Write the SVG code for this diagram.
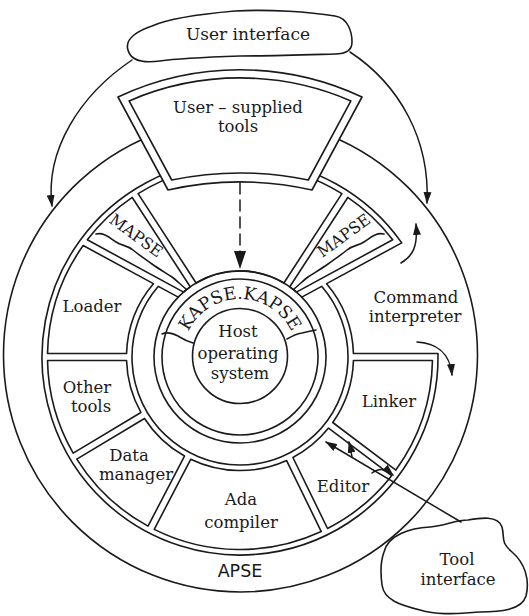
<svg xmlns="http://www.w3.org/2000/svg" width="529" height="616" viewBox="0 0 529 616">
<style>
.ln{fill:none;stroke:#1a1a1a;stroke-width:1.6;stroke-linejoin:round;stroke-linecap:round}
.wf{fill:#fff;stroke:#1a1a1a;stroke-width:1.6;stroke-linejoin:round}
.t{font-family:"DejaVu Serif","Liberation Serif",serif;font-size:16.5px;fill:#1a1a1a;text-anchor:middle}
.s{font-family:"DejaVu Sans","Liberation Sans",sans-serif;font-size:17.5px;fill:#1a1a1a;text-anchor:middle}
.cn{fill:none;stroke:#1a1a1a;stroke-width:1.5;stroke-linecap:round}
</style>
<defs>
<marker id="ah" viewBox="0 0 12 8" refX="11" refY="4" markerWidth="12" markerHeight="8" markerUnits="userSpaceOnUse" orient="auto"><path d="M0,0 L12,4 L0,8 Z" fill="#1a1a1a"/></marker>
<marker id="ahb" viewBox="0 0 18 12" refX="17" refY="6" markerWidth="18" markerHeight="12" markerUnits="userSpaceOnUse" orient="auto"><path d="M0,0 L18,6 L0,12 Z" fill="#1a1a1a"/></marker>
<path id="kp" d="M183,356 A57,57 0 0 1 297,356"/>
</defs>
<rect width="529" height="616" fill="#fff"/>

<g id="apse">
<circle class="wf" cx="240.5" cy="355" r="237"/>
<text class="s" x="240" y="577">APSE</text>
</g>

<g id="ring-walls">
<path class="ln" d="M401.75,242.85 L326.64,283.65 A113.5,113.5 0 0 1 353.45,353.5 L437.97,353.5 A198,198 0 1 1 401.75,242.85 Z"/>
<path class="ln" d="M301.78,297.15 L321.66,286.33 A108,108 0 1 1 158.34,286.33 L178.22,297.15"/>
</g>

<g id="command-interpreter">
<text class="t" x="416" y="303">Command</text>
<text class="t" x="415" y="322">interpreter</text>
</g>

<g id="kapse">
<circle class="ln" cx="240" cy="357" r="86"/>
<circle class="ln" cx="240" cy="357" r="78"/>
<path class="ln" d="M162,334 C168,331 174,334 178,336 C183,339 186,341 193,343"/>
<path class="ln" d="M287,339 C292,336 296,334 302,333 C307,332 310,331 316,330"/>
<text class="t" style="font-size:17.5px"><textPath href="#kp" startOffset="50%">KAPSE.KAPSE</textPath></text>
</g>

<g id="host">
<circle class="ln" cx="240" cy="356" r="47.5"/>
<text class="t" x="238" y="337">Host</text>
<text class="t" x="238" y="359">operating</text>
<text class="t" x="240" y="379">system</text>
</g>

<g id="top-cell">
<path class="ln" d="M138.10,193.64 A192.5,192.5 0 0 1 341.90,193.64 L283.90,282.96 A86,86 0 0 0 196.10,282.96 Z"/>
</g>

<g id="mapse-right">
<path class="ln" d="M347.77,197.46 A192.5,192.5 0 0 1 392.7,239.8 L296.42,292.10 A86,86 0 0 0 289.77,286.78 Z"/>
<path class="ln" d="M384,234 C376,232 370,238 364,242 C358,246 353,245 347,250 C341,255 335,259 328,264 C321,269 314,273 308,277 C304,280 300,284 294,289"/>
<text class="t" style="font-size:16px" transform="translate(347,240) rotate(-36)">MAPSE</text>
</g>

<g id="mapse-left">
<path class="ln" d="M132.23,197.46 L190.23,286.78 A86,86 0 0 0 183.58,292.10 L87.3,239.8 A192.5,192.5 0 0 1 132.23,197.46 Z"/>
<path class="ln" d="M96,234 C104,232 110,238 116,242 C122,246 127,245 133,250 C139,255 145,259 152,264 C159,269 166,273 172,277 C176,280 180,284 186,289"/>
<text class="t" style="font-size:16px" transform="translate(133,240) rotate(36)">MAPSE</text>
</g>

<g id="linker">
<path class="ln" d="M353.45,360.5 L432.47,360.5 A192.5,192.5 0 0 1 395.84,470.05 L332.75,422.51 A113.5,113.5 0 0 0 353.45,360.5 Z"/>
<text class="t" x="389" y="407">Linker</text>
</g>

<g id="editor">
<path class="ln" d="M328.53,428.10 L391.62,475.65 A192.5,192.5 0 0 1 327.54,528.49 L292.91,457.48 A113.5,113.5 0 0 0 328.53,428.10 Z"/>
<text class="t" x="343" y="492">Editor</text>
</g>

<g id="ada-compiler">
<path class="ln" d="M286.61,460.54 L321.25,531.55 A192.5,192.5 0 0 1 154.22,529.37 L190.71,459.29 A113.5,113.5 0 0 0 286.61,460.54 Z"/>
<text class="t" x="241" y="505">Ada</text>
<text class="t" x="241" y="528">compiler</text>
</g>

<g id="data-manager">
<path class="ln" d="M184.50,456.05 L148.02,526.13 A192.5,192.5 0 0 1 76.79,459.14 L144.51,418.45 A113.5,113.5 0 0 0 184.50,456.05 Z"/>
<text class="t" x="129" y="461">Data</text>
<text class="t" x="136" y="480">manager</text>
</g>

<g id="other-tools">
<path class="ln" d="M140.91,412.45 L73.19,453.14 A192.5,192.5 0 0 1 47.53,360.5 L126.55,360.5 A113.5,113.5 0 0 0 140.91,412.45 Z"/>
<text class="t" x="87" y="393">Other</text>
<text class="t" x="91" y="412">tools</text>
</g>

<g id="loader">
<path class="ln" d="M126.55,353.5 L47.53,353.5 A192.5,192.5 0 0 1 83.17,245.52 L153.36,283.65 A113.5,113.5 0 0 0 126.55,353.5 Z"/>
<text class="t" x="92" y="312">Loader</text>
</g>

<g id="user-supplied-tools">
<path class="wf" d="M118,97 A287,287 0 0 1 362,97 L312,190 A328,328 0 0 0 168,190 Z"/>
<path class="ln" d="M129.1,100.9 A279,279 0 0 1 350.9,100.9 L308.3,180 A337,337 0 0 0 171.7,180 Z"/>
<text class="t" x="238" y="113">User – supplied</text>
<text class="t" x="238" y="132">tools</text>
</g>

<g id="user-interface">
<path class="wf" d="M128,50 C124,38 140,30 152,26 C170,18 200,14 235,11 C270,9 310,12 335,16 C348,18 352,32 352,42 C352,50 346,54 335,54 C300,55 270,56 240,56 C210,57 180,58 160,61 C145,63 131,62 128,50 Z"/>
<text class="t" x="248" y="40" style="font-size:17px">User interface</text>
</g>

<g id="tool-interface">
<path class="wf" d="M384,552 C388,535 410,528 430,527 C445,526 455,520 468,520 C480,518 498,515 502,527 C505,538 500,542 512,552 C525,563 530,580 526,596 C522,610 500,612 480,612 C460,613 440,616 420,610 C400,605 384,600 382,585 C380,570 381,560 384,552 Z"/>
<text class="t" x="457" y="565">Tool</text>
<text class="t" x="458" y="585">interface</text>
</g>

<g id="connectors">
<path class="cn" d="M132,60 C80,95 45,150 52,206" marker-end="url(#ah)"/>
<path class="cn" d="M350,52 C400,85 430,140 427,203" marker-end="url(#ah)"/>
<path class="cn" d="M240,183 L240,268" stroke-dasharray="11 6" marker-end="url(#ahb)"/>
<path class="cn" d="M401,263 C413,256 418,246 416,224" marker-end="url(#ah)"/>
<path class="cn" d="M417,342 C435,343 450,352 452,375" marker-end="url(#ah)"/>
<path class="cn" d="M461,522 L326,442" marker-end="url(#ah)"/>
<path class="cn" d="M352,457 Q351,450 349,442" marker-end="url(#ah)"/>
<path class="cn" d="M372,473 Q382,465 393,475" marker-end="url(#ah)"/>
</g>
</svg>
